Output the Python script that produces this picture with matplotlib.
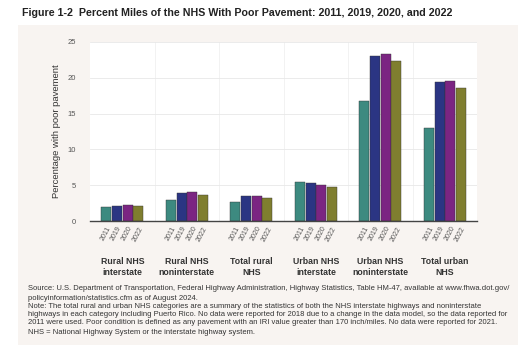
import numpy as np
import matplotlib
matplotlib.use("Agg")
from matplotlib import pyplot as plt
from matplotlib.patches import Rectangle

plt.rcParams['font.family'] = ['Liberation Sans', 'DejaVu Sans']

# Data
categories = ["Rural NHS\ninterstate", "Rural NHS\nnoninterstate", "Total rural\nNHS",
              "Urban NHS\ninterstate", "Urban NHS\nnoninterstate", "Total urban\nNHS"]
years = ["2011", "2019", "2020", "2022"]
v2011 = [1.9, 3.0, 2.7, 5.4, 16.8, 13.0]
v2019 = [2.1, 3.9, 3.5, 5.3, 23.0, 19.4]
v2020 = [2.3, 4.0, 3.5, 5.1, 23.3, 19.5]
v2022 = [2.1, 3.6, 3.2, 4.8, 22.3, 18.6]
series = [v2011, v2019, v2020, v2022]
colors = ["#3d8a80", "#2b3583", "#7b2582", "#7f7e2f"]

fig = plt.figure(figsize=(5.18, 3.52), dpi=100)
fig.patch.set_facecolor("white")
# beige panel behind chart and notes
fig.patches.append(Rectangle((18 / 518, 7 / 352), 1 - 18 / 518, 1 - 32 / 352,
                             transform=fig.transFigure, facecolor="#f8f4f1",
                             edgecolor="none", zorder=-10))

ax = fig.add_axes([0.174, 0.372, 0.747, 0.509])
ax.set_facecolor("white")

x = np.arange(len(categories)) + 0.5
w = 0.155
offsets = [-1.5, -0.5, 0.5, 1.5]
for vals, c, off in zip(series, colors, offsets):
    ax.bar(x + off * (w + 0.01), vals, width=w, color=c, edgecolor="#333333",
           linewidth=0.3, zorder=3)

ax.set_xlim(0, 6)
ax.set_ylim(0, 25)
ax.set_yticks([0, 5, 10, 15, 20, 25])
ax.tick_params(axis='y', length=0, labelsize=5.5, labelcolor="#555555", pad=10)
ax.grid(axis='y', color="#e8e8e8", linewidth=0.6, zorder=0)
for xv in range(1, 6):
    ax.axvline(xv, color="#f0f0f0", linewidth=0.6, zorder=0)
for s in ["top", "right", "left"]:
    ax.spines[s].set_visible(False)
ax.spines["bottom"].set_color("#444444")
ax.spines["bottom"].set_linewidth(1.0)
ax.spines["bottom"].set_zorder(4)

# year tick labels under each bar
xt, xl = [], []
for i in range(len(categories)):
    for off, yr in zip(offsets, years):
        xt.append(x[i] + off * (w + 0.01))
        xl.append(yr)
ax.set_xticks(xt)
ax.set_xticklabels(xl, rotation=62, ha='right', va='top', rotation_mode='anchor',
                   fontsize=5, color="#555555")
ax.tick_params(axis='x', length=0, pad=3)

ax.set_ylabel("Percentage with poor pavement", fontsize=6.8, color="#333333", labelpad=5)

for xi, cat in zip(x, categories):
    ax.text(xi, -0.2, cat, transform=ax.get_xaxis_transform(), ha='center', va='top',
            fontsize=6.3, fontweight='bold', color="#333333", linespacing=1.35)

fig.text(22 / 518, 1 - 13 / 352,
         "Figure 1-2  Percent Miles of the NHS With Poor Pavement: 2011, 2019, 2020, and 2022",
         fontsize=7.7, fontweight='bold', color="#222222", va='center')

notes = [
    ("Source: U.S. Department of Transportation, Federal Highway Administration, Highway Statistics, Table HM-47, available at www.fhwa.dot.gov/", 289),
    ("policyinformation/statistics.cfm as of August 2024.", 298),
    ("Note: The total rural and urban NHS categories are a summary of the statistics of both the NHS interstate highways and noninterstate", 307),
    ("highways in each category including Puerto Rico. No data were reported for 2018 due to a change in the data model, so the data reported for", 315),
    ("2011 were used. Poor condition is defined as any pavement with an IRI value greater than 170 inch/miles. No data were reported for 2021.", 323),
    ("NHS = National Highway System or the interstate highway system.", 332),
]
for txt, yp in notes:
    fig.text(28 / 518, 1 - yp / 352, txt, fontsize=5.5, color="#333333", va='center')

fig.savefig("out.png", dpi=100, facecolor=fig.get_facecolor())
